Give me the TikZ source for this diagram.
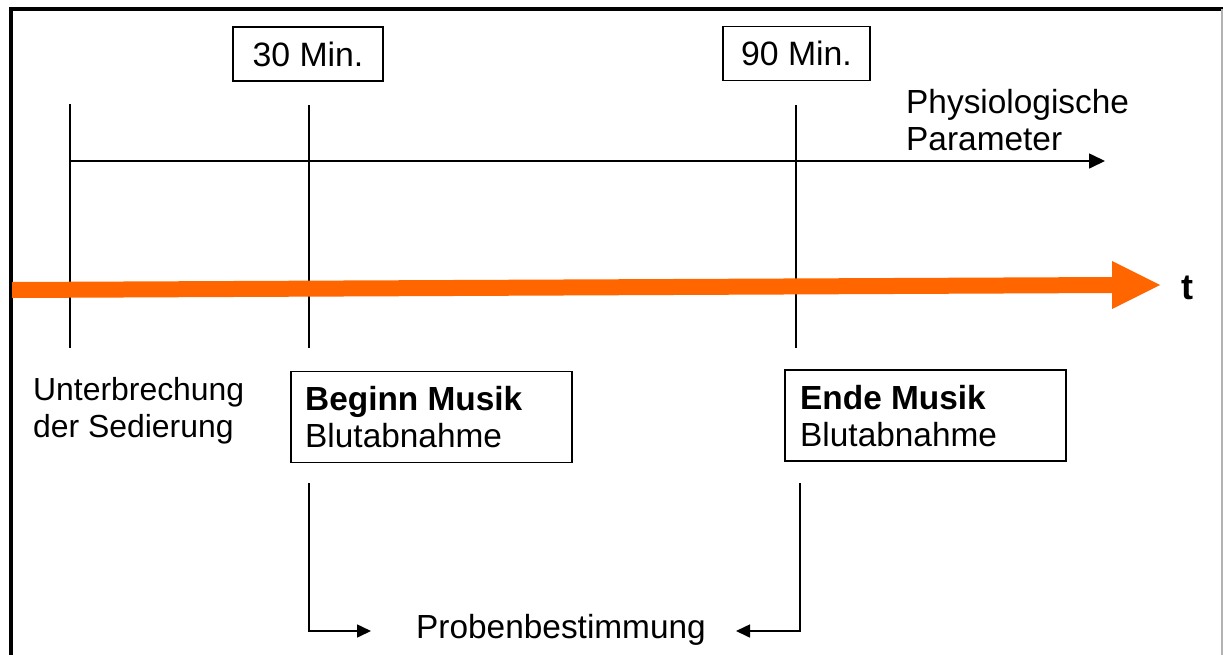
\documentclass[tikz,border=0pt]{standalone}
\usepackage{fontspec}
\setmainfont{Liberation Sans}
\usetikzlibrary{arrows.meta}
\definecolor{timeorange}{HTML}{FF6600}
\begin{document}
\begin{tikzpicture}[x=1pt,y=-1pt,
  txt/.style={inner sep=0pt,font=\fontsize{33.4}{37.5}\selectfont,align=left},
  tagbox/.style={draw,line width=1.6pt,minimum width=150pt,minimum height=54pt,inner sep=0pt,
    font=\fontsize{33.8}{38}\selectfont},
  eventbox/.style={draw,line width=1.6pt,minimum width=281pt,minimum height=91pt,inner sep=0pt},
  tick/.style={line width=1.6pt},
  conn/.style={line width=1.6pt,-{Triangle[length=14pt,width=13pt]}}]
\useasboundingbox (0,0) rectangle (1223,654);
% frame
\draw[line width=4pt] (11,656) -- (11,9) -- (1223,9);
\draw[line width=1.2pt,black!30] (1222,9) -- (1222,656);

% time marks
\node[tagbox] (m30) at (308,54) {30 Min.};
\node[tagbox,minimum width=147pt] (m90) at (796.5,53.5) {90 Min.};

\coordinate (t0a) at (70,104);  \coordinate (t0b) at (70,348);
\coordinate (t1a) at (309,105); \coordinate (t1b) at (309,348);
\coordinate (t2a) at (796,105); \coordinate (t2b) at (796,348);
\draw[tick] (t0a) -- (t0b);
\draw[tick] (t1a) -- (t1b);
\draw[tick] (t2a) -- (t2b);

% physiological parameters
\coordinate (ps) at (70,161);
\coordinate (pe) at (1105,161);
\draw[line width=1.6pt,-{Triangle[length=16pt,width=15pt]}] (ps) -- (pe);
\node[txt,anchor=west] (phys) at (906,120) {Physiologische\\Parameter};

% time axis
\fill[timeorange] (12,282) -- (1112,277) -- (1112,261) -- (1160,285) -- (1112,309) -- (1112,293) -- (12,298) -- cycle;
\node[inner sep=0pt,font=\fontsize{36}{40}\selectfont\bfseries] (t) at (1187,288) {t};

% events
\node[txt,anchor=west,font=\fontsize{31.9}{37}\selectfont] (stop) at (33,411) {Unterbrechung\\der Sedierung};
\node[eventbox] (beg) at (431.5,417) {};
\node[txt,anchor=west] (begt) at (305,417) {\textbf{Beginn Musik}\\Blutabnahme};
\node[eventbox] (end) at (925.5,415.5) {};
\node[txt,anchor=west] (endt) at (800,416) {\textbf{Ende Musik}\\Blutabnahme};

% sample analysis
\node[txt] (probe) at (561,630) {Probenbestimmung};
\coordinate (la) at (309,483);
\coordinate (lc) at (309,631);
\coordinate (le) at (371,631);
\coordinate (ra) at (800,483);
\coordinate (rc) at (800,631);
\coordinate (re) at (736,631);
\draw[conn] (la) -- (lc) -- (le);
\draw[conn] (ra) -- (rc) -- (re);
\end{tikzpicture}
\end{document}
